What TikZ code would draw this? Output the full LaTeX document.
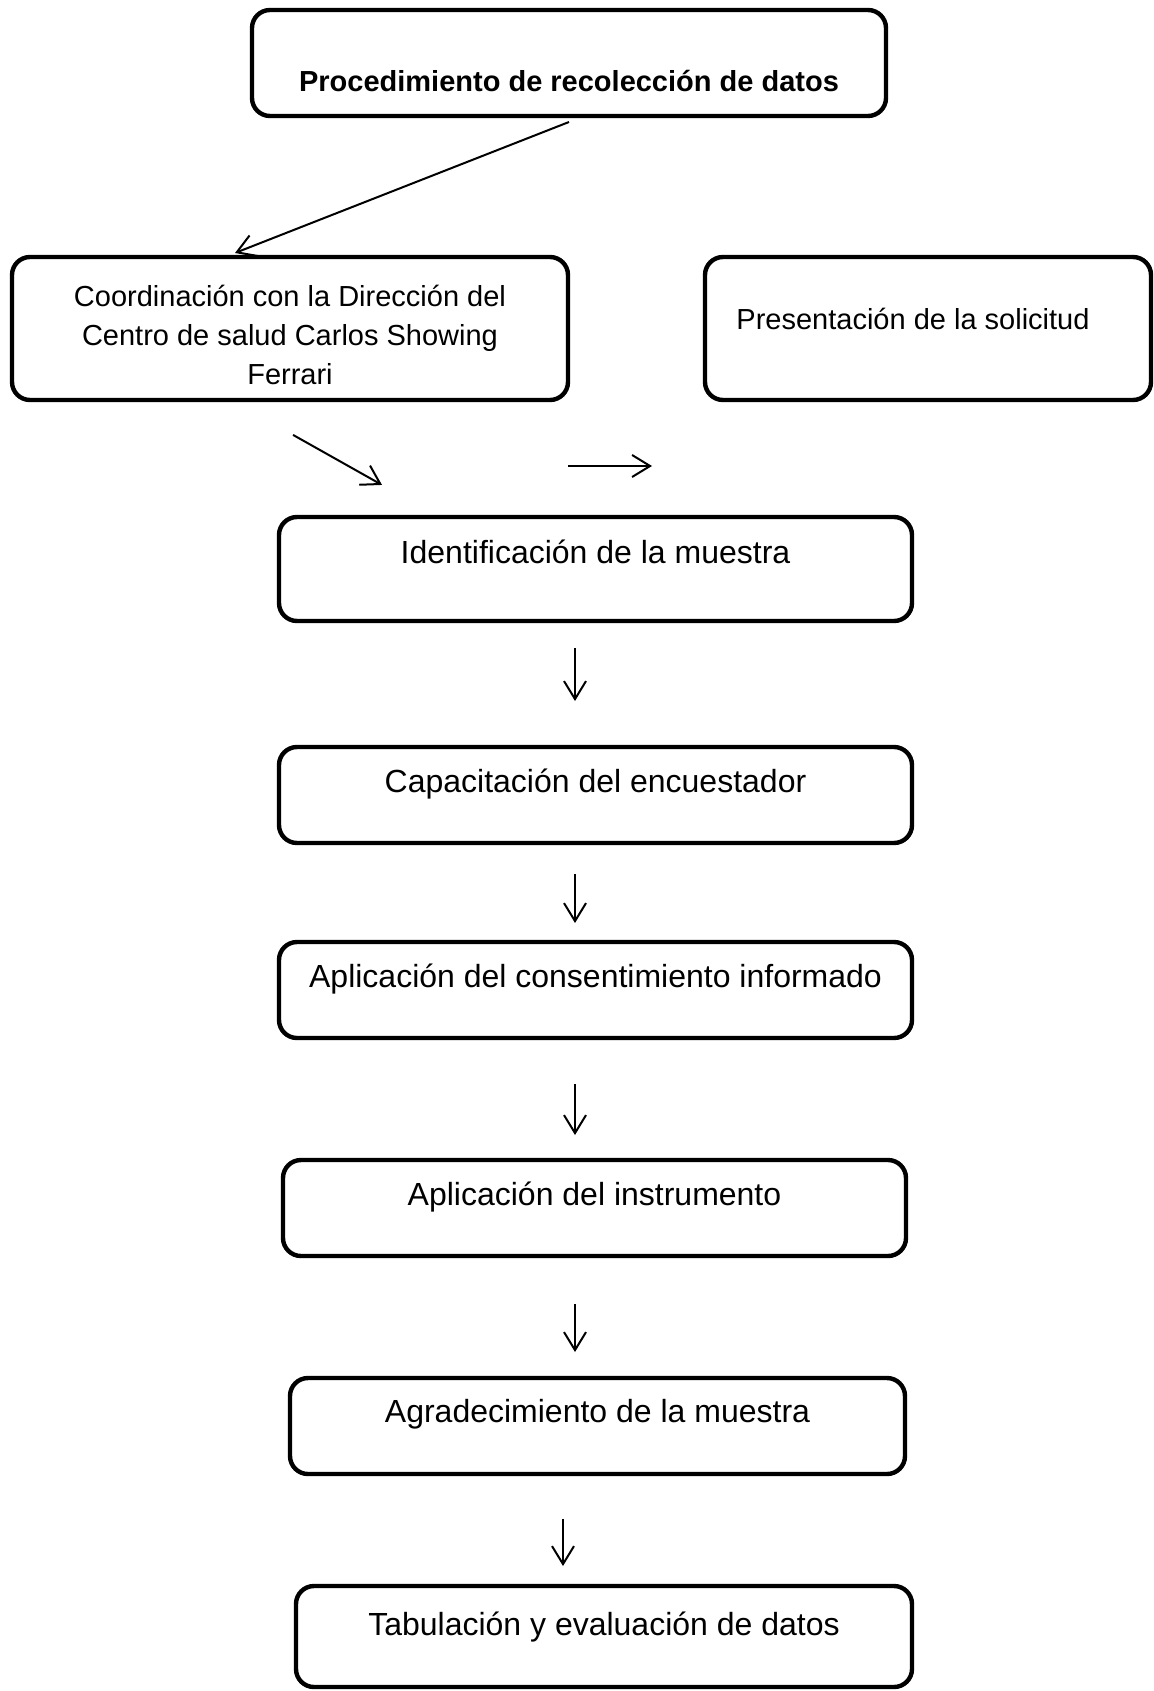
\documentclass[tikz,border=0pt]{standalone}
\usepackage{fontspec}
\setmainfont{Liberation Sans}
\usetikzlibrary{arrows.meta,positioning}
\tikzset{
  stage/.style={draw, line width=2.2pt, rounded corners=9pt, align=center, inner sep=0pt, outer sep=0pt, font=\fontsize{16}{19.5}\selectfont},
  topstage/.style={stage, font=\fontsize{14.5}{19.5}\selectfont},
  arrow/.style={-{Straight Barb[length=9pt, width=11pt]}, line width=1pt}
}
\begin{document}
\begin{tikzpicture}[x=0.5pt, y=-0.5pt]
  \useasboundingbox (0,0) rectangle (1154,1691);

  % cabecera y primera fila
  \node[topstage, font=\bfseries\fontsize{14.5}{19.5}\selectfont, minimum width=317pt, text height=40.5pt, text depth=12.5pt] (title) at (569,63)
  {Procedimiento de recolección de datos};
  \node[topstage, minimum width=278pt, minimum height=71.5pt] (coord) at (290,328.5)
  {\rule{0pt}{17.5pt}Coordinación con la Dirección del\\Centro de salud Carlos Showing\\Ferrari};
  \node[topstage, minimum width=223pt, text height=36pt, text depth=35.5pt] (pres) at (928,328.5)
  {Presentación de la solicitud\hspace{15pt}};

  % etapas
  \node[stage, minimum width=316.5pt, text height=23pt, text depth=29pt] (ident) at (595.5,569) {Identificación de la muestra};
  \node[stage, minimum width=316.5pt, text height=22.5pt, text depth=25.5pt] (capac) at (595.5,795) {Capacitación del encuestador};
  \node[stage, minimum width=316.5pt, text height=22.5pt, text depth=25.5pt] (consent) at (595.5,990) {Aplicación del consentimiento informado};
  \node[stage, minimum width=311.5pt, text height=22.5pt, text depth=25.5pt] (instr) at (594.5,1208) {Aplicación del instrumento};
  \node[stage, minimum width=307.5pt, text height=22pt, text depth=26pt] (agrad) at (597.5,1426) {Agradecimiento de la muestra};
  \node[stage, minimum width=308pt, text height=24.5pt, text depth=26pt] (tabul) at (604,1636.5) {Tabulación y evaluación de datos};

  \draw[arrow] ([yshift=-3pt]title.south) -- ([xshift=-27.5pt, yshift=2pt]coord.north);
  \draw[arrow, shorten <=35.6pt, shorten >=32.7pt] ([xshift=-29.5pt]coord.south) -- ([xshift=-78.25pt]ident.north);
  \draw[arrow, shorten >=26.5pt] ([yshift=-33pt]coord.south east) -- ([yshift=-33pt]pres.south west);
  \draw[arrow, shorten <=13.5pt, shorten >=23pt] ([xshift=-10.25pt]ident.south) -- ([xshift=-10.25pt]capac.north);
  \draw[arrow, shorten <=15.5pt, shorten >=9.5pt] ([xshift=-10.25pt]capac.south) -- ([xshift=-10.25pt]consent.north);
  \draw[arrow, shorten <=23pt, shorten >=12.5pt] ([xshift=-10.25pt]consent.south) -- ([xshift=-9.75pt]instr.north);
  \draw[arrow, shorten <=24pt, shorten >=13pt] ([xshift=-9.75pt]instr.south) -- ([xshift=-11.25pt]agrad.north);
  \draw[arrow, shorten <=22.5pt, shorten >=10pt] ([xshift=-17.25pt]agrad.south) -- ([xshift=-20.5pt]tabul.north);
\end{tikzpicture}
\end{document}
